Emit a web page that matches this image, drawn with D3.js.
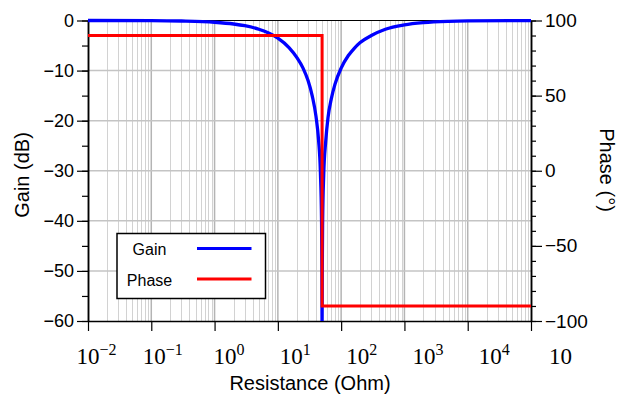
<!DOCTYPE html>
<html>
<head>
<meta charset="utf-8">
<script src="https://cdn.jsdelivr.net/npm/d3@7"></script>
<style>
  body { margin: 0; background: #fff; }
  svg { display: block; }
  text { font-family: "Liberation Sans", Arial, sans-serif; }
</style>
</head>
<body>
<svg width="619" height="394"></svg>
<script>
// gain curve (resistance in ohm, gain in dB)
var gainR  = [0.01, 0.1, 0.3, 1, 2, 3, 5, 7, 10, 15, 20, 25, 30, 35, 40, 44, 47, 49, 49.7, 50,
              50.3, 51, 53, 57, 62, 70, 80, 100, 130, 160, 200, 300, 500, 1000, 2000, 5000, 10000, 100000];
var gainDb = [0, -0.02, -0.1, -0.35, -0.7, -1.04, -1.74, -2.44, -3.5, -5.4, -7.4, -9.5, -12.0, -15.1, -19.1, -23.9, -30.2, -39.9, -50.5, -62,
              -50.5, -40.1, -30.9, -24.2, -19.4, -15.6, -12.7, -9.5, -7.0, -5.6, -4.4, -3.0, -1.74, -0.87, -0.43, -0.17, -0.09, -0.01];
// phase step
var phaseR   = [0.01, 50, 50, 100000];
var phaseDeg = [90, 90, -90, -90];

var xTicks = [0.01, 0.1, 1, 10, 100, 1000, 10000, 100000];
var xExp = ["\u22122", "\u22121", "0", "1", "2", "3", "4", ""];
var gainTicks = [0, -10, -20, -30, -40, -50, -60];
var phaseTicks = [100, 50, 0, -50, -100];

var svg = d3.select("svg");

var x = d3.scaleLog().domain([0.01, 100000]).range([88, 531]);
var yG = d3.scaleLinear().domain([-60, 0]).range([321, 20.5]);
var yP = d3.scaleLinear().domain([-100, 100]).range([321, 20.5]);

// grid
var grid = svg.append("g");
grid.selectAll(".vminor")
  .data(x.ticks().filter(function(d){ return xTicks.indexOf(d) < 0; }))
  .enter().append("line")
  .attr("x1", function(d){ return Math.round(x(d)) + 0.5; })
  .attr("x2", function(d){ return Math.round(x(d)) + 0.5; })
  .attr("y1", 20.5).attr("y2", 321)
  .attr("stroke", "#d2d2d2").attr("stroke-width", 1);
grid.selectAll(".vmajor")
  .data(xTicks.slice(1, -1))
  .enter().append("line")
  .attr("x1", function(d){ return x(d); })
  .attr("x2", function(d){ return x(d); })
  .attr("y1", 20.5).attr("y2", 321)
  .attr("stroke", "#b4b4b4").attr("stroke-width", 1.5);
grid.selectAll(".h")
  .data(gainTicks.slice(1, -1))
  .enter().append("line")
  .attr("x1", 88).attr("x2", 531)
  .attr("y1", function(d){ return yG(d); })
  .attr("y2", function(d){ return yG(d); })
  .attr("stroke", "#c4c4c4").attr("stroke-width", 1.5);

// frame
svg.append("line").attr("x1", 88).attr("x2", 531).attr("y1", 20.5).attr("y2", 20.5)
  .attr("stroke", "#000").attr("stroke-width", 1);

// axes
function styleAxis(g) {
  g.select(".domain").attr("stroke", "#000").attr("stroke-width", 1.5);
  g.selectAll(".tick line").attr("stroke", "#000").attr("stroke-width", 1.2);
}

var gx = svg.append("g").attr("transform", "translate(0,321)")
  .call(d3.axisBottom(x).tickValues(xTicks).tickSize(10).tickSizeOuter(0).tickFormat(""));
styleAxis(gx);
gx.selectAll(".tick").each(function(d, i){
  var t = d3.select(this).append("text")
    .attr("x", 8 + 3 * i).attr("y", 43)
    .attr("text-anchor", "middle")
    .attr("fill", "#000")
    .style("font-family", "'Liberation Serif', 'Times New Roman', serif")
    .style("font-size", "23px");
  t.append("tspan").text("10");
  if (xExp[i]) t.append("tspan").attr("dy", -9).style("font-size", "16px").text(xExp[i]);
});

var gyMinor = svg.append("g").attr("transform", "translate(88,0)")
  .call(d3.axisLeft(yG).ticks(12).tickSize(6).tickSizeOuter(0).tickFormat(""));
styleAxis(gyMinor);
var gy = svg.append("g").attr("transform", "translate(88,0)")
  .call(d3.axisLeft(yG).tickValues(gainTicks).tickSize(11).tickSizeOuter(0).tickPadding(3));
styleAxis(gy);
gy.selectAll("text").attr("fill", "#000").style("font-size", "18px")
  .style("font-family", "'Liberation Sans', Arial, sans-serif");

var gpMinor = svg.append("g").attr("transform", "translate(531,0)")
  .call(d3.axisRight(yP).ticks(20).tickSize(5).tickSizeOuter(0).tickFormat(""));
styleAxis(gpMinor);
var gp = svg.append("g").attr("transform", "translate(531,0)")
  .call(d3.axisRight(yP).tickValues(phaseTicks).tickSize(11).tickSizeOuter(0).tickPadding(3));
styleAxis(gp);
gp.selectAll("text").attr("fill", "#000").style("font-size", "19px")
  .style("font-family", "'Liberation Sans', Arial, sans-serif");

// curves
svg.append("clipPath").attr("id", "clip").append("rect")
  .attr("x", 88).attr("y", 18).attr("width", 443).attr("height", 303);

var gainLine = d3.line()
  .x(function(d, i){ return x(gainR[i]); })
  .y(function(d){ return yG(d); })
  .curve(d3.curveMonotoneX);
svg.append("path").datum(gainDb)
  .attr("clip-path", "url(#clip)")
  .attr("d", gainLine)
  .attr("fill", "none").attr("stroke", "#0000ff").attr("stroke-width", 3.3);

var phaseLine = d3.line()
  .x(function(d, i){ return x(phaseR[i]); })
  .y(function(d){ return yP(d); });
svg.append("path").datum(phaseDeg)
  .attr("d", phaseLine)
  .attr("fill", "none").attr("stroke", "#ff0000").attr("stroke-width", 3);

// axis titles
svg.append("text").attr("x", 310).attr("y", 390).attr("text-anchor", "middle")
  .style("font-size", "20px").text("Resistance (Ohm)");
svg.append("text").attr("transform", "translate(29,175) rotate(-90)").attr("text-anchor", "middle")
  .style("font-size", "20px").text("Gain (dB)");
svg.append("text").attr("transform", "translate(600,170) rotate(90)").attr("text-anchor", "middle")
  .style("font-size", "20px").text("Phase (\u00b0)");

// legend
var legend = svg.append("g");
legend.append("rect").attr("x", 117).attr("y", 233.5).attr("width", 148.5).attr("height", 65)
  .attr("fill", "#fff").attr("stroke", "#000").attr("stroke-width", 1.5);
var items = [["Gain", "#0000ff"], ["Phase", "#ff0000"]];
items.forEach(function(it, i){
  var yy = 248.5 + i * 30.5;
  legend.append("text").attr("x", 149.5).attr("y", yy + 6.5).attr("text-anchor", "middle")
    .style("font-size", "16px").text(it[0]);
  legend.append("line").attr("x1", 197).attr("x2", 251.5).attr("y1", yy).attr("y2", yy)
    .attr("stroke", it[1]).attr("stroke-width", 3);
});
</script>
</body>
</html>
